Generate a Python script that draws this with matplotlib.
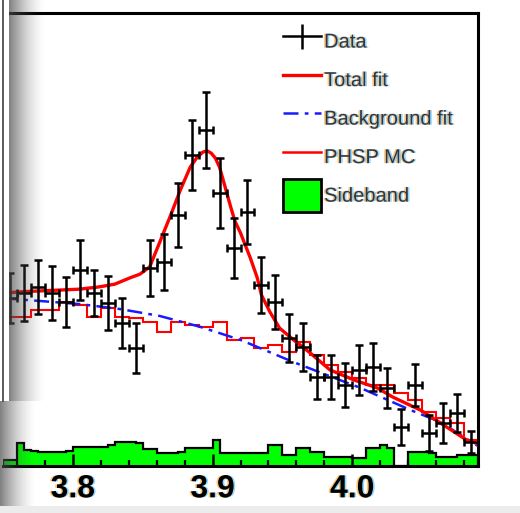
import numpy as np
import matplotlib.pyplot as plt
import matplotlib.patheffects as pe
from matplotlib.lines import Line2D
from matplotlib.patches import Patch, Rectangle

plt.rcParams['font.family'] = ['Liberation Sans', 'DejaVu Sans']

# data and PHSP MC: 0.01 GeV bins starting at 3.75
bin_lo, bin_w = 3.75, 0.01
data_counts = [37.0, 38.1, 39.5, 38.1, 36.2, 43.2, 38.1, 35.9, 31.5, 26.0,
               43.7, 45.0, 55.3, 68.6, 74.1, 60.2, 48.1, 56.0, 39.9, 36.2,
               28.2, 26.2, 19.6, 19.6, 17.9, 21.2, 21.8, 17.2, 8.6, 17.9,
               7.3, 9.5, 11.7, 5.3]
data_err = [5.5, 6.2, 6.0, 6.0, 5.5, 6.6, 5.1, 6.0, 5.5, 5.5,
            6.2, 6.2, 7.1, 7.7, 8.4, 7.7, 6.6, 7.1, 6.2, 6.0,
            5.3, 5.3, 4.9, 4.9, 4.9, 5.5, 5.3, 4.4, 4.0, 4.6,
            4.0, 4.4, 4.2, 2.4]
phsp_mc = [32.9, 32.9, 34.4, 34.4, 36.2, 35.5, 32.9, 34.8, 32.9, 32.6,
           31.8, 29.5, 31.8, 31.1, 30.7, 31.8, 27.8, 28.2, 26.0, 26.7,
           25.1, 27.3, 24.5, 22.3, 20.7, 19.4, 17.9, 17.9, 16.1, 14.6,
           11.9, 10.6, 9.5, 5.7]

# sideband: 0.005 GeV bins
sb_w = 0.005
sideband = [1.3, 1.3, 5.1, 3.5, 3.3, 3.1, 3.1, 3.1, 3.1, 3.3,
            4.2, 4.2, 4.2, 4.2, 4.2, 4.6, 5.3, 5.3, 5.3, 5.1,
            3.7, 3.7, 2.9, 2.9, 2.9, 3.1, 4.0, 4.0, 4.0, 4.0,
            5.7, 2.9, 2.9, 2.9, 2.9, 2.9, 2.9, 2.9, 4.6, 4.6,
            2.4, 2.4, 4.0, 4.0, 3.1, 3.1, 2.0, 2.0, 2.0, 2.0,
            1.8, 1.8, 4.0, 4.0, 4.6, 4.0, 0.0, 0.0, 3.1, 3.1,
            3.1, 2.9, 2.0, 2.0, 2.0, 2.4, 2.4, 2.4]

# fit curves
fit_mass = [3.750, 3.762, 3.776, 3.791, 3.805, 3.819, 3.830, 3.841, 3.848, 3.855,
            3.862, 3.870, 3.877, 3.884, 3.889, 3.893, 3.896, 3.899, 3.902, 3.905,
            3.909, 3.913, 3.916, 3.920, 3.927, 3.932, 3.935, 3.941, 3.948, 3.958,
            3.970, 3.984, 4.001, 4.018, 4.029, 4.049, 4.063, 4.082, 4.090]
fit_total = [38.1, 38.4, 38.6, 38.8, 39.0, 39.5, 40.1, 41.5, 42.3, 43.9,
             49.2, 55.3, 60.9, 65.9, 68.1, 69.2, 69.5, 69.0, 67.9, 65.9,
             61.5, 57.1, 54.0, 51.4, 45.9, 41.5, 37.7, 34.0, 30.4, 27.8,
             24.9, 21.2, 19.0, 17.2, 15.2, 12.3, 9.5, 5.7, 4.9]
bkg_mass = [3.750, 3.776, 3.805, 3.834, 3.862, 3.891, 3.920, 3.934, 3.958, 3.984,
            4.006, 4.042, 4.063, 4.090]
bkg_fit = [37.0, 36.4, 35.7, 34.6, 33.1, 30.7, 27.8, 26.0, 22.9, 19.8,
           17.2, 12.3, 9.7, 4.4]

tick_vals = [3.8, 3.9, 4.0]
tick_labels = ['3.8', '3.9', '4.0']
legend_labels = ['Data', 'Total fit', 'Background fit', 'PHSP MC', 'Sideband']

edges = bin_lo + bin_w * np.arange(len(data_counts) + 1)
centers = 0.5 * (edges[:-1] + edges[1:])
sb_edges = bin_lo + sb_w * np.arange(len(sideband) + 1)

fringe = [pe.SimplePatchShadow(offset=(-1.2, 0), shadow_rgbFace='#ff9900', alpha=0.55),
          pe.SimplePatchShadow(offset=(1.2, 0), shadow_rgbFace='#33bbff', alpha=0.55),
          pe.Normal()]

fig = plt.figure(figsize=(5.2, 5.13), dpi=100)
ax = fig.add_axes([3 / 520, 47 / 513, 475 / 520, 453.5 / 513])

ax.stairs(sideband, sb_edges, fill=True, facecolor='#00ff00', edgecolor='black',
          lw=1.6, zorder=1)
ax.stairs(phsp_mc, edges, baseline=None, color='red', lw=1.5, zorder=3)
bkg_line, = ax.plot(bkg_mass, bkg_fit, color='#1a1aff', lw=1.8,
                    dashes=(6, 2.5, 1.5, 2.5), zorder=4)
tot_line, = ax.plot(fit_mass, fit_total, color='red', lw=2.4, zorder=5)
ax.errorbar(centers, data_counts, yerr=data_err, xerr=bin_w / 2, fmt='none',
            ecolor='black', elinewidth=1.8, capsize=3, capthick=1.8, zorder=6)

ax.set_xlim(3.75, 4.09)
ax.set_ylim(0, 100)
ax.set_xticks(tick_vals)
ax.set_xticklabels(tick_labels, fontsize=23, fontweight='bold')
ax.set_xticks(np.arange(3.76, 4.09, 0.02), minor=True)
ax.tick_params(axis='x', which='major', direction='in', length=9, width=1.8,
               pad=6, top=False)
ax.tick_params(axis='x', which='minor', direction='in', length=4.5, width=1.6,
               top=False)
ax.tick_params(axis='y', which='both', left=False, labelleft=False)
for lab in ax.get_xticklabels():
    lab.set_path_effects(fringe)
for s in ax.spines.values():
    s.set_linewidth(2.2)
ax.spines['left'].set_visible(False)

data_h = (Line2D([], [], color='black', lw=1.8),
          Line2D([], [], ls='none', marker='|', ms=18, mew=1.8, color='black'))
mc_h = Line2D([], [], color='red', lw=1.8)
sb_h = Patch(facecolor='#00ff00', edgecolor='black', lw=2)
leg = ax.legend([data_h, tot_line, bkg_line, mc_h, sb_h], legend_labels,
                loc='upper left', bbox_to_anchor=(0.589, 0.973), frameon=False,
                fontsize=14.5, handlelength=1.9, handleheight=2.15,
                handletextpad=0.15, labelspacing=0.27, borderpad=0,
                borderaxespad=0)
for t in leg.get_texts():
    t.set_color('#333344')
    t.set_path_effects(fringe)

# screenshot shadow and neighbouring window edge
ov = fig.add_axes([0, 0, 1, 1], zorder=10)
yy, xx = np.mgrid[0:513, 0:60]
x0 = np.where(yy < 401, 9, 0)
d = xx - x0
a = np.clip(1 - d / 36.0, 0, 1) ** 1.6 * 0.7
a[d < 0] = 0
img = np.zeros((513, 60, 4))
img[..., :3] = 0.3
img[..., 3] = a
ov.imshow(img, extent=(0, 60, 513, 0), interpolation='bilinear', aspect='auto')
ov.add_patch(Rectangle((0, 0), 9, 401, facecolor='white', edgecolor='none'))
ov.plot([2.5, 2.5], [0, 401], color='0.25', lw=1.2)
ov.add_patch(Rectangle((0, 506), 520, 7, facecolor='#ececec', edgecolor='none'))
ov.set_xlim(0, 520)
ov.set_ylim(513, 0)
ov.axis('off')

fig.savefig('out.png', dpi=100)
